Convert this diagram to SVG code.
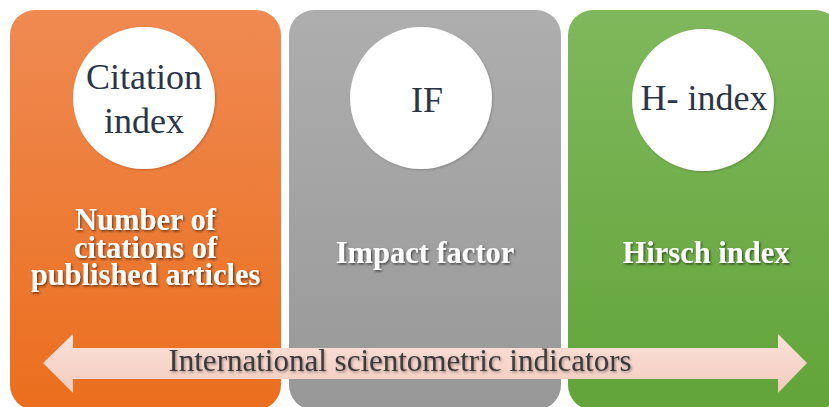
<svg xmlns="http://www.w3.org/2000/svg" width="829" height="407" viewBox="0 0 829 407">
  <defs>
    <linearGradient id="gOrange" x1="0" y1="0" x2="0" y2="1">
      <stop offset="0" stop-color="#ef8a52"/>
      <stop offset="1" stop-color="#eb6e1d"/>
    </linearGradient>
    <linearGradient id="gGray" x1="0" y1="0" x2="0" y2="1">
      <stop offset="0" stop-color="#aeaeae"/>
      <stop offset="1" stop-color="#989898"/>
    </linearGradient>
    <linearGradient id="gGreen" x1="0" y1="0" x2="0" y2="1">
      <stop offset="0" stop-color="#7fb85c"/>
      <stop offset="1" stop-color="#62a439"/>
    </linearGradient>
    <linearGradient id="gArrow" x1="0" y1="0" x2="0" y2="1">
      <stop offset="0" stop-color="#fbe2da"/>
      <stop offset="1" stop-color="#f3cabd"/>
    </linearGradient>
    <filter id="shWhite" x="-10%" y="-30%" width="120%" height="160%">
      <feDropShadow dx="1.2" dy="1.5" stdDeviation="0.8" flood-color="#000" flood-opacity="0.55"/>
    </filter>
    <filter id="shDark" x="-10%" y="-30%" width="120%" height="160%">
      <feDropShadow dx="1.2" dy="1.5" stdDeviation="0.8" flood-color="#000" flood-opacity="0.35"/>
    </filter>
    <filter id="shCircle" x="-20%" y="-20%" width="140%" height="140%">
      <feDropShadow dx="1" dy="1" stdDeviation="1" flood-color="#000" flood-opacity="0.2"/>
    </filter>
  </defs>
  <style>
    .panel { stroke: none; }
    .circ { fill: #ffffff; filter: url(#shCircle); }
    .ctext { font-family: "Liberation Serif", "Times New Roman", serif; font-size: 36px; fill: #2b3546; text-anchor: middle; }
    .btext { font-family: "Liberation Serif", "Times New Roman", serif; font-size: 30.5px; font-weight: bold; fill: #ffffff; text-anchor: middle; filter: url(#shWhite); }
    .atext { font-family: "Liberation Serif", "Times New Roman", serif; font-size: 31px; fill: #3a3a3a; text-anchor: middle; filter: url(#shDark); }
  </style>
  <rect width="829" height="407" fill="#ffffff"/>

  <g id="node-citation">
    <rect class="panel" x="10" y="10" width="271" height="400" rx="25" fill="url(#gOrange)"/>
    <circle class="circ" cx="144" cy="98" r="71"/>
    <text class="ctext" x="144" y="89">Citation</text>
    <text class="ctext" x="144" y="133">index</text>
    <text class="btext" x="145.5" y="230">Number of</text>
    <text class="btext" x="145.5" y="258">citations of</text>
    <text class="btext" x="145.5" y="285">published articles</text>
  </g>

  <g id="node-if">
    <rect class="panel" x="289" y="10" width="272" height="400" rx="25" fill="url(#gGray)"/>
    <circle class="circ" cx="421" cy="98" r="71"/>
    <text class="ctext" x="427" y="112">IF</text>
    <text class="btext" x="425" y="263">Impact factor</text>
  </g>

  <g id="node-hindex">
    <rect class="panel" x="568" y="10" width="272" height="400" rx="25" fill="url(#gGreen)"/>
    <circle class="circ" cx="703" cy="100" r="71"/>
    <text class="ctext" x="704" y="110">H- index</text>
    <text class="btext" x="706" y="263">Hirsch index</text>
  </g>

  <g id="connectors">
    <path d="M43,363 L73,334 L73,348 L778,348 L778,334 L807,363 L778,393 L778,379 L73,379 L73,393 Z" fill="url(#gArrow)"/>
    <text class="atext" x="400" y="371">International scientometric indicators</text>
  </g>
</svg>
